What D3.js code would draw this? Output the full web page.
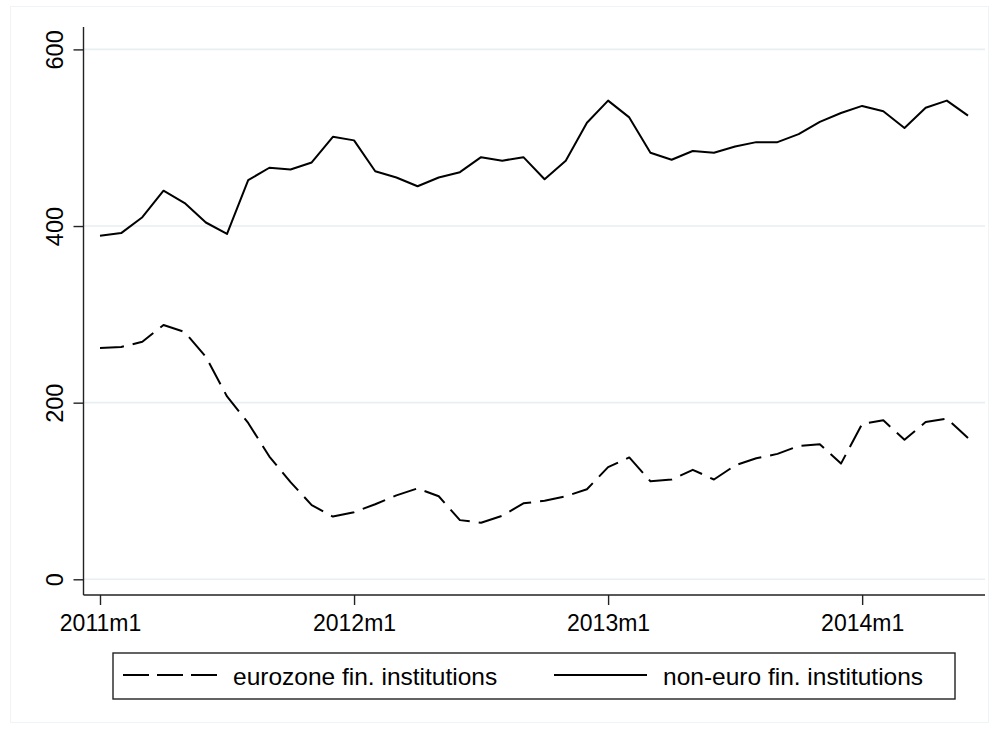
<!DOCTYPE html>
<html>
<head>
<meta charset="utf-8">
<script src="https://cdn.jsdelivr.net/npm/d3@7"></script>
<style>
  html, body { margin: 0; padding: 0; background: #fff; }
  svg { display: block; font-family: "Liberation Sans", Arial, Helvetica, sans-serif; }
</style>
</head>
<body>
<svg id="chart" width="998" height="729"></svg>
<script>
// Monthly periods 2011m1 .. 2014m6
const months = [];
for (let y = 2011; y <= 2014; y++) {
  for (let m = 1; m <= 12; m++) {
    if (y === 2014 && m > 6) break;
    months.push(y + "m" + m);
  }
}

// Exposure of each group of financial institutions, by month
const eurozone = [262, 263, 269, 288, 280, 252, 207, 177, 139, 110, 84, 71,
                  76, 85, 95, 103, 94, 67, 64, 72, 86, 89, 94, 102,
                  127, 138, 111, 113, 124, 113, 129, 137, 142, 151, 153, 131,
                  176, 180, 158, 178, 182, 160];
const nonEuro  = [389, 392, 410, 440, 426, 404, 391, 452, 466, 464, 472, 501,
                  497, 462, 455, 445, 455, 461, 478, 474, 478, 453, 474, 517,
                  542, 523, 483, 475, 485, 483, 490, 495, 495, 504, 518, 528,
                  536, 530, 511, 534, 542, 525];

const seriesNames = ["eurozone fin. institutions", "non-euro fin. institutions"];
const xTickLabels = ["2011m1", "2012m1", "2013m1", "2014m1"];
const yTicks = [0, 200, 400, 600];

const svg = d3.select("#chart");

// Plot geometry
const axisLeft = 83.5, axisRight = 985, axisTop = 27, axisBottom = 595;

const x = d3.scaleLinear().domain([0, months.length - 1]).range([100, 968]);
const y = d3.scaleLinear().domain([0, 600]).range([579.3, 49.4]);

// Light outer frame of the graph region
svg.append("rect")
  .attr("x", 10.5).attr("y", 6.5).attr("width", 978).attr("height", 716)
  .attr("fill", "none").attr("stroke", "#f1f4f6").attr("stroke-width", 1);

// Horizontal grid lines
svg.append("g").selectAll("line").data(yTicks).join("line")
  .attr("x1", axisLeft).attr("x2", axisRight)
  .attr("y1", d => y(d)).attr("y2", d => y(d))
  .attr("stroke", "#e7eff2").attr("stroke-width", 1.6);

// Y axis
const yAxis = svg.append("g").attr("transform", `translate(${axisLeft},0)`)
  .call(d3.axisLeft(y).tickValues(yTicks).tickSize(10).tickSizeOuter(0).tickPadding(0));
yAxis.select(".domain").remove();
yAxis.selectAll(".tick line").attr("stroke", "#222").attr("stroke-width", 1.4);
yAxis.selectAll(".tick text")
  .attr("x", null).attr("dy", null)
  .attr("text-anchor", "middle")
  .attr("transform", "translate(-20.5,0) rotate(-90)")
  .attr("font-size", 23.5).attr("fill", "#000");

// X axis
const xIdx = xTickLabels.map(l => months.indexOf(l));
const xAxis = svg.append("g").attr("transform", `translate(0,${axisBottom})`)
  .call(d3.axisBottom(x).tickValues(xIdx).tickFormat(i => months[i])
    .tickSize(10).tickSizeOuter(0).tickPadding(0));
xAxis.select(".domain").remove();
xAxis.selectAll(".tick line").attr("stroke", "#222").attr("stroke-width", 1.4);
xAxis.selectAll(".tick text")
  .attr("y", 36).attr("dy", null)
  .attr("font-size", 23).attr("fill", "#000");

// Axis lines
svg.append("line").attr("x1", axisLeft).attr("x2", axisLeft)
  .attr("y1", axisTop).attr("y2", axisBottom)
  .attr("stroke", "#222").attr("stroke-width", 1.4);
svg.append("line").attr("x1", axisLeft).attr("x2", axisRight)
  .attr("y1", axisBottom).attr("y2", axisBottom)
  .attr("stroke", "#222").attr("stroke-width", 1.4);

// Series lines
const line = d3.line().x((d, i) => x(i)).y(d => y(d));
const dashPattern = "24,9";

svg.append("path").datum(eurozone)
  .attr("d", line).attr("fill", "none")
  .attr("stroke", "#000").attr("stroke-width", 2)
  .attr("stroke-dasharray", dashPattern)
  .attr("stroke-linejoin", "round");

svg.append("path").datum(nonEuro)
  .attr("d", line).attr("fill", "none")
  .attr("stroke", "#000").attr("stroke-width", 2)
  .attr("stroke-linejoin", "round");

// Legend
const legend = svg.append("g");
legend.append("rect")
  .attr("x", 113).attr("y", 653).attr("width", 842).attr("height", 46)
  .attr("fill", "#fff").attr("stroke", "#222").attr("stroke-width", 1.4);

const legendItems = [
  { name: seriesNames[0], x1: 123, x2: 217, tx: 233, dash: "26,8" },
  { name: seriesNames[1], x1: 554, x2: 647, tx: 663, dash: null }
];
legendItems.forEach(it => {
  legend.append("line")
    .attr("x1", it.x1).attr("x2", it.x2).attr("y1", 675).attr("y2", 675)
    .attr("stroke", "#000").attr("stroke-width", 2)
    .attr("stroke-dasharray", it.dash);
  legend.append("text")
    .attr("x", it.tx).attr("y", 684.5)
    .attr("font-size", 24.5).attr("fill", "#000")
    .text(it.name);
});
</script>
</body>
</html>
